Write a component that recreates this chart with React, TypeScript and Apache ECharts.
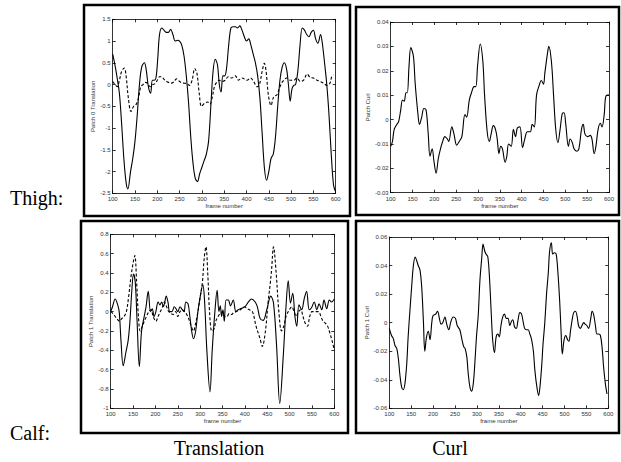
import React, { useEffect, useRef } from "react";
import * as echarts from "echarts";

// ---------- Data (frame, value) ----------
const frameTicks = { min: 100, max: 600, interval: 50 };

const thighTransSolid: [number, number][] = [
  [100, 0.7], [105, 0.45], [110, 0.15], [115, -0.2], [120, -0.9], [125, -1.7], [130, -2.25], [134, -2.4],
  [140, -2.0], [145, -1.7], [150, -1.3], [155, -0.7], [160, 0.0], [165, 0.4], [171, 0.5], [175, 0.35],
  [180, -0.05], [185, -0.2], [189, 0.1], [193, 0.1], [197, 0.15], [201, 0.6], [205, 1.15], [210, 1.3],
  [215, 1.25], [220, 1.2], [225, 1.2], [230, 1.27], [235, 1.15], [240, 1.0], [245, 1.02], [250, 1.0],
  [255, 0.9], [260, 0.65], [265, 0.2], [270, -0.4], [275, -1.2], [280, -1.8], [285, -2.15], [290, -2.23],
  [295, -2.05], [300, -1.9], [305, -1.75], [310, -1.6], [315, -1.3], [320, -0.5], [325, 0.3], [330, 0.58],
  [335, 0.45], [339, 0.0], [343, -0.17], [347, 0.2], [351, 0.2], [355, 0.35], [360, 0.9], [365, 1.3],
  [370, 1.33], [375, 1.33], [380, 1.3], [385, 1.35], [390, 1.25], [395, 1.1], [400, 1.0], [405, 1.05],
  [410, 0.9], [415, 0.7], [420, 0.5], [425, 0.2], [430, -0.3], [435, -1.1], [440, -1.9], [445, -2.2],
  [450, -2.0], [455, -1.7], [460, -1.6], [465, -1.2], [470, -0.5], [475, 0.1], [480, 0.4], [485, 0.5],
  [490, 0.35], [494, 0.0], [498, -0.38], [502, -0.1], [506, -0.02], [510, 0.0], [515, 0.3], [520, 0.9],
  [525, 1.3], [530, 1.25], [535, 1.15], [540, 1.1], [545, 1.2], [550, 1.25], [555, 1.05], [560, 0.95],
  [566, 1.15], [570, 0.95], [575, 0.5], [580, 0.0], [585, -0.7], [590, -1.6], [595, -2.3], [599, -2.45],
];

const thighTransDashed: [number, number][] = [
  [100, 0.07], [105, 0.0], [110, -0.05], [115, 0.1], [120, 0.3], [126, 0.38], [130, 0.2], [135, -0.3],
  [141, -0.62], [147, -0.5], [153, -0.45], [158, -0.3], [163, -0.05], [168, 0.0], [173, 0.05], [178, 0.03],
  [184, -0.05], [190, 0.0], [195, 0.02], [200, 0.1], [205, 0.18], [210, 0.18], [215, 0.12], [220, 0.08],
  [225, 0.05], [231, 0.03], [237, 0.06], [243, 0.13], [250, 0.07], [255, 0.04], [261, 0.03], [267, 0.02],
  [272, -0.02], [278, 0.1], [284, 0.37], [289, 0.25], [294, -0.2], [299, -0.5], [306, -0.43], [313, -0.4],
  [318, -0.45], [323, -0.3], [328, -0.05], [333, 0.05], [339, 0.1], [345, 0.07], [352, 0.1], [359, 0.18],
  [367, 0.15], [375, 0.2], [382, 0.1], [390, 0.15], [401, 0.1], [409, 0.15], [416, 0.07], [424, -0.05],
  [429, 0.0], [435, 0.3], [440, 0.49], [444, 0.3], [449, -0.24], [455, -0.48], [461, -0.28], [468, -0.24],
  [475, -0.05], [482, 0.08], [490, 0.15], [498, 0.1], [506, 0.1], [513, 0.15], [521, 0.07], [528, 0.1],
  [536, 0.24], [543, 0.16], [550, 0.15], [558, 0.1], [565, 0.07], [573, 0.03], [580, -0.02], [587, 0.03],
  [591, 0.18], [595, 0.22],
];

const thighCurl: [number, number][] = [
  [100, -0.011], [104, -0.009], [108, -0.004], [114, -0.002], [118, -0.001], [123, 0.004], [127, 0.008],
  [131, 0.0075], [135, 0.011], [138, 0.011], [142, 0.022], [146, 0.0295], [152, 0.026], [156, 0.015],
  [162, 0.003], [166, -0.002], [171, 0.001], [176, 0.0045], [181, 0.004], [186, -0.006], [190, -0.015],
  [195, -0.012], [199, -0.017], [204, -0.022], [209, -0.016], [214, -0.012], [219, -0.009], [224, -0.007],
  [230, -0.008], [233, -0.009], [240, -0.003], [245, -0.006], [251, -0.0105], [257, -0.009], [263, -0.007],
  [270, 0.002], [274, 0.001], [280, 0.008], [285, 0.011], [291, 0.0135], [295, 0.0135], [299, 0.022],
  [305, 0.031], [311, 0.024], [315, 0.01], [321, -0.005], [326, -0.009], [330, -0.006], [335, -0.0025],
  [340, -0.004], [344, -0.008], [348, -0.014], [352, -0.011], [356, -0.012], [362, -0.0175], [366, -0.015],
  [370, -0.01], [376, -0.011], [381, -0.004], [386, -0.007], [390, -0.0035], [396, -0.003], [402, -0.0115],
  [407, -0.008], [413, -0.005], [420, -0.005], [424, -0.002], [429, -0.003], [434, 0.01], [440, 0.014],
  [445, 0.016], [450, 0.0145], [453, 0.019], [459, 0.027], [462, 0.03], [468, 0.024], [473, 0.01],
  [478, -0.004], [483, -0.0095], [488, -0.004], [493, 0.0025], [497, 0.0028], [501, -0.002], [507, -0.011],
  [511, -0.008], [516, -0.0095], [520, -0.012], [526, -0.013], [531, -0.012], [537, -0.004], [541, -0.002],
  [545, -0.006], [551, -0.007], [557, -0.0065], [561, -0.008], [566, -0.014], [570, -0.011], [575, -0.004],
  [580, -0.0015], [584, -0.003], [589, 0.002], [592, 0.009], [596, 0.01], [600, 0.01],
];

const calfTransSolid: [number, number][] = [
  [100, 0.0], [104, 0.05], [110, 0.13], [115, 0.08], [119, 0.0], [123, -0.3], [128, -0.56], [134, -0.42],
  [139, -0.3], [143, -0.1], [147, 0.2], [151, 0.39], [155, 0.3], [159, -0.1], [164, -0.57], [169, -0.2],
  [175, -0.05], [179, 0.05], [184, 0.21], [189, 0.0], [193, 0.03], [197, -0.05], [201, 0.0], [206, 0.1],
  [210, 0.07], [214, 0.1], [218, 0.05], [221, 0.1], [224, 0.16], [228, 0.1], [232, 0.0], [237, 0.0],
  [242, 0.05], [246, 0.03], [250, 0.0], [255, 0.05], [260, 0.02], [264, 0.0], [268, 0.1], [273, 0.08],
  [277, -0.05], [281, -0.2], [285, -0.28], [290, -0.2], [295, 0.0], [300, 0.15], [306, 0.28], [310, 0.1],
  [315, -0.4], [322, -0.83], [327, -0.4], [333, 0.0], [338, 0.22], [342, 0.0], [345, 0.06], [348, -0.05],
  [351, 0.02], [354, -0.1], [358, 0.12], [363, 0.12], [368, 0.06], [374, 0.12], [380, 0.0], [385, 0.02],
  [390, 0.03], [396, 0.04], [402, 0.06], [408, 0.1], [415, 0.13], [423, 0.1], [428, 0.05], [434, -0.07],
  [441, -0.09], [449, 0.02], [458, 0.16], [464, 0.09], [471, -0.36], [478, -0.95], [486, -0.45],
  [492, 0.05], [497, 0.32], [502, 0.09], [507, 0.19], [512, -0.05], [516, -0.15], [521, 0.07], [527, 0.02],
  [533, 0.14], [538, 0.21], [544, 0.02], [549, 0.04], [555, 0.1], [561, 0.02], [566, 0.08], [572, 0.02],
  [577, 0.12], [583, 0.03], [589, 0.12], [594, 0.1], [600, 0.13],
];

const calfTransDashed: [number, number][] = [
  [100, 0.0], [105, -0.02], [110, -0.05], [115, -0.08], [120, -0.1], [125, -0.07], [130, -0.05], [135, 0.0],
  [140, 0.15], [145, 0.35], [150, 0.5], [154, 0.58], [158, 0.3], [162, -0.05], [166, -0.2], [171, -0.15],
  [175, -0.1], [180, -0.05], [185, 0.0], [190, 0.02], [195, -0.05], [201, -0.1], [206, -0.05], [211, 0.0],
  [216, 0.05], [220, 0.1], [225, 0.05], [230, 0.0], [240, -0.03], [245, 0.0], [250, -0.05], [255, 0.0],
  [260, 0.02], [265, 0.0], [270, -0.03], [275, -0.08], [280, -0.15], [285, -0.2], [290, -0.12], [295, 0.0],
  [300, 0.15], [305, 0.3], [309, 0.55], [313, 0.67], [317, 0.4], [321, 0.0], [326, -0.2], [331, -0.18],
  [335, -0.1], [340, -0.05], [345, -0.02], [350, 0.0], [355, -0.05], [360, -0.05], [365, -0.02], [370, -0.03],
  [375, -0.01], [380, 0.0], [385, 0.01], [390, 0.02], [395, 0.04], [400, 0.05], [405, 0.03], [410, 0.02],
  [417, 0.0], [425, -0.15], [434, -0.28], [439, -0.36], [446, -0.2], [452, 0.1], [457, 0.3], [460, 0.45],
  [464, 0.67], [470, 0.4], [476, 0.0], [482, -0.2], [487, -0.15], [492, -0.05], [497, 0.0], [505, 0.05],
  [510, 0.0], [515, -0.05], [520, 0.0], [525, 0.02], [530, -0.05], [535, -0.12], [540, -0.15], [545, -0.05],
  [550, 0.0], [555, 0.0], [560, 0.0], [565, 0.0], [570, -0.05], [575, -0.1], [580, -0.12], [585, -0.15],
  [590, -0.22], [595, -0.3], [600, -0.4],
];

const calfCurl: [number, number][] = [
  [100, -0.004], [105, -0.009], [109, -0.011], [113, -0.016], [117, -0.018], [121, -0.026], [124, -0.036],
  [128, -0.045], [132, -0.047], [136, -0.042], [140, -0.028], [143, -0.01], [147, 0.008], [151, 0.025],
  [155, 0.04], [159, 0.046], [162, 0.044], [166, 0.04], [170, 0.037], [174, 0.025], [178, 0.0], [181, -0.02],
  [185, -0.01], [189, -0.006], [193, -0.012], [197, 0.0], [200, 0.005], [206, 0.006], [210, 0.008],
  [215, 0.002], [218, -0.001], [222, 0.0], [227, 0.004], [231, -0.001], [236, -0.005], [240, 0.0],
  [246, 0.004], [251, 0.003], [255, -0.002], [261, -0.005], [266, -0.012], [270, -0.017], [273, -0.018],
  [277, -0.024], [280, -0.035], [284, -0.045], [288, -0.048], [292, -0.042], [296, -0.025], [299, -0.01],
  [303, 0.005], [307, 0.03], [311, 0.045], [314, 0.055], [318, 0.05], [321, 0.048], [325, 0.046], [329, 0.03],
  [333, 0.005], [336, -0.012], [340, -0.021], [344, -0.01], [348, -0.008], [351, -0.01], [355, -0.002],
  [359, 0.004], [363, 0.006], [367, 0.003], [371, 0.003], [375, -0.002], [379, 0.001], [382, 0.002],
  [386, -0.003], [390, -0.004], [394, 0.002], [398, 0.007], [402, 0.006], [406, 0.0], [409, -0.004],
  [413, -0.005], [417, -0.005], [421, -0.008], [425, -0.012], [429, -0.02], [432, -0.032], [436, -0.043],
  [441, -0.051], [444, -0.045], [448, -0.03], [451, -0.015], [455, 0.0], [459, 0.02], [463, 0.035],
  [466, 0.05], [470, 0.056], [473, 0.048], [477, 0.049], [481, 0.048], [485, 0.035], [489, 0.015],
  [492, -0.005], [495, -0.022], [499, -0.012], [503, -0.009], [507, -0.012], [510, -0.013], [514, -0.005],
  [518, 0.003], [521, 0.007], [525, 0.008], [529, 0.004], [532, -0.002], [536, -0.004], [540, -0.002],
  [544, 0.0], [547, -0.001], [551, -0.002], [555, -0.004], [560, 0.003], [563, 0.008], [567, 0.005],
  [571, -0.003], [574, -0.008], [578, -0.008], [582, -0.009], [586, -0.018], [589, -0.03], [593, -0.042],
  [597, -0.05],
];

const yRanges = [
  { name: "Patch 0 Translation", min: -2.5, max: 1.5, interval: 0.5 },
  { name: "Patch Curl", min: -0.03, max: 0.04, interval: 0.01 },
  { name: "Patch 1 Translation", min: -1, max: 0.8, interval: 0.2 },
  { name: "Patch 1 Curl", min: -0.06, max: 0.06, interval: 0.02 },
];

const rowLabels = ["Thigh:", "Calf:"];
const colLabels = ["Translation", "Curl"];

// ---------- Layout ----------
const grids = [
  { left: 112.7, top: 19.3, width: 223, height: 174, nameGap: 14 },
  { left: 390.7, top: 22, width: 218.3, height: 170.7, nameGap: 16 },
  { left: 110.7, top: 234.3, width: 223.6, height: 174, nameGap: 14 },
  { left: 389.3, top: 237, width: 219, height: 171.3, nameGap: 17 },
];

const fmt = (v: number) => String(parseFloat(v.toFixed(4)));

export default function App() {
  const ref = useRef<HTMLDivElement>(null);
  useEffect(() => {
    if (!ref.current) return;
    const chart = echarts.init(ref.current, undefined, { renderer: "svg" });
    const labelFont = { fontFamily: "Liberation Sans", fontSize: 6, color: "#333" };
    const xAxes: any[] = [];
    const yAxes: any[] = [];
    grids.forEach((g, i) => {
      const common = {
        gridIndex: i,
        axisLine: { show: true, onZero: false, lineStyle: { color: "#000", width: 0.8 } },
        axisTick: { show: true, inside: true, length: 3, lineStyle: { color: "#000", width: 0.8 } },
        splitLine: { show: false },
      };
      xAxes.push({
        ...common,
        type: "value",
        position: "bottom",
        min: frameTicks.min,
        max: frameTicks.max,
        interval: frameTicks.interval,
        axisLabel: { ...labelFont, margin: 3, formatter: fmt },
        name: "frame number",
        nameLocation: "middle",
        nameGap: 9,
        nameTextStyle: { ...labelFont },
      });
      xAxes.push({
        ...common,
        type: "value",
        position: "top",
        min: frameTicks.min,
        max: frameTicks.max,
        interval: frameTicks.interval,
        axisLabel: { show: false },
      });
      const r = yRanges[i];
      yAxes.push({
        ...common,
        type: "value",
        position: "left",
        min: r.min,
        max: r.max,
        interval: r.interval,
        axisLabel: { ...labelFont, margin: 2, formatter: fmt },
        name: r.name,
        nameLocation: "middle",
        nameGap: g.nameGap,
        nameTextStyle: { ...labelFont },
      });
      yAxes.push({
        ...common,
        type: "value",
        position: "right",
        min: r.min,
        max: r.max,
        interval: r.interval,
        axisLabel: { show: false },
      });
    });

    const line = (data: [number, number][], idx: number, dashed: boolean) => ({
      type: "line",
      xAxisIndex: idx * 2,
      yAxisIndex: idx * 2,
      data,
      showSymbol: false,
      symbol: "none",
      smooth: 0.35,
      clip: true,
      lineStyle: { color: "#000", width: 1.1, type: dashed ? [3, 2] : "solid" },
      silent: true,
    });

    const serif = "Liberation Serif";
    const boxes = [
      { x: 84, y: 5, w: 266, h: 211 },
      { x: 356, y: 7, w: 263, h: 208 },
      { x: 81, y: 221, w: 267, h: 212 },
      { x: 356, y: 221, w: 263, h: 212 },
    ];

    chart.setOption({
      animation: false,
      backgroundColor: "#fff",
      grid: grids.map((g) => ({ left: g.left, top: g.top, width: g.width, height: g.height, containLabel: false })),
      xAxis: xAxes,
      yAxis: yAxes,
      series: [
        line(thighTransDashed, 0, true),
        line(thighTransSolid, 0, false),
        line(thighCurl, 1, false),
        line(calfTransDashed, 2, true),
        line(calfTransSolid, 2, false),
        line(calfCurl, 3, false),
      ],
      graphic: [
        ...boxes.map((b) => ({
          type: "rect",
          shape: { x: b.x, y: b.y, width: b.w, height: b.h },
          style: { fill: "none", stroke: "#000", lineWidth: 2.5 },
          silent: true,
          z: 10,
        })),
        {
          type: "text",
          x: 10,
          y: 208,
          style: { text: rowLabels[0], font: `20px "${serif}"`, fill: "#000", verticalAlign: "bottom" },
        },
        {
          type: "text",
          x: 10,
          y: 443,
          style: { text: rowLabels[1], font: `20px "${serif}"`, fill: "#000", verticalAlign: "bottom" },
        },
        {
          type: "text",
          x: 219,
          y: 458,
          style: { text: colLabels[0], font: `20px "${serif}"`, fill: "#000", align: "center", verticalAlign: "bottom" },
        },
        {
          type: "text",
          x: 450,
          y: 458,
          style: { text: colLabels[1], font: `20px "${serif}"`, fill: "#000", align: "center", verticalAlign: "bottom" },
        },
      ],
    });
    return () => chart.dispose();
  }, []);
  return (
    <div
      ref={ref}
      style={{ position: "absolute", left: 0, top: 0, width: 621, height: 462, background: "#fff" }}
    />
  );
}
